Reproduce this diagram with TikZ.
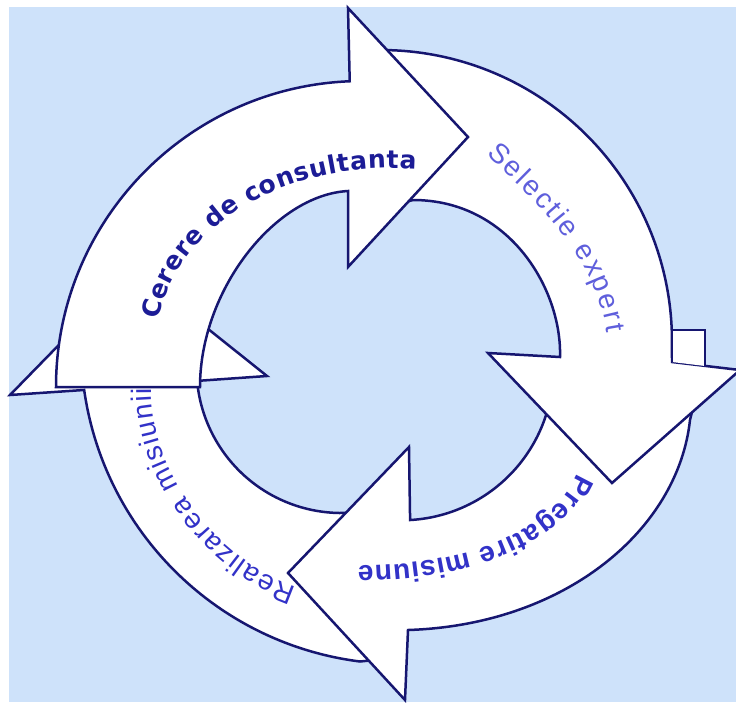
\documentclass[tikz,border=0pt]{standalone}
\usepackage{fontspec}
\usepackage{tikz}
\usetikzlibrary{decorations.text}
\newfontfamily\ringbold{DejaVu Sans}
\newfontfamily\ringsans{Liberation Sans}
\newcommand{\boldring}{\ringbold\bfseries\fontsize{25}{29}\selectfont}
\newcommand{\plainring}{\ringsans\fontsize{28}{32}\selectfont}
\newcommand{\heavyring}{\ringsans\bfseries\fontsize{28}{32}\selectfont}
\definecolor{skyback}{RGB}{206,226,250}
\definecolor{ringline}{RGB}{22,22,112}
\definecolor{darkink}{RGB}{28,28,150}
\definecolor{paleink}{RGB}{95,95,220}
\definecolor{midink}{RGB}{50,50,200}

\begin{document}
\begin{tikzpicture}[
    x=1pt, y=-1pt,
    ring/.style={fill=white, draw=ringline, line width=2.5pt, line join=miter},
    ringtext/.style 2 args={decorate, decoration={text along path, text align={fit to path}, text color=#1, text={#2}}}
]
\useasboundingbox (0,0) rectangle (736,702);
\clip (0,0) rectangle (736,702);
\fill[white] (0,0) rectangle (736,702);
\fill[skyback] (9,7) rectangle (736,702);

% Arrow 4 (left, points up) - lowest layer
\draw[ring] (375,660) -- (360,661.5) arc[start angle=97.2, end angle=171.9, radius=319]
  -- (10,395) -- (133,269) -- (267,376) -- (197.1,380.9) arc[start angle=174.9, end angle=80, radius=145] -- cycle;

% Arrow 3 (bottom, points left)
\draw[ring] (695,400) -- (690,420) .. controls (678,530) and (565,625) .. (408,630)
  -- (405,700) -- (288,573) -- (409,447) -- (410.1,520) arc[start angle=86.8, end angle=8, radius=151.7] -- cycle;

% Arrow 2 (right, points down)
\draw[ring] (370.8,50.2) arc[start angle=268, end angle=360, radius=291]
  -- (672,362) -- (740,370) -- (612,483) -- (488,353)
  -- (560,357) .. controls (562,290) and (510,200) .. (413,200) -- (395,205) -- cycle;
\draw[ring] (672,362) -- (672,330) -- (705,330) -- (705,366);

% Arrow 1 (top, points right) - on top
\draw[ring] (56,387) arc[start angle=180, end angle=267.7, radius=306]
  -- (348,8) -- (468,137) -- (348,267)
  -- (348,191) .. controls (275,195) and (200,290) .. (200,387) -- cycle;

% Labels along the ring
\path[ringtext={darkink}{|\boldring|Cerere de consultanta}] (159,320) .. controls (175,230) and (280,160) .. (416,169);
\path[ringtext={paleink}{|\plainring|Selectie expert}] (486,154) .. controls (535,200) and (595,255) .. (607,333);
\path[ringtext={midink}{|\heavyring|Pregatire misiune}] (577,473) .. controls (555,530) and (470,565) .. (358,566);
\path[ringtext={midink}{|\plainring|Realizarea misiunii}] (297,587) .. controls (215,560) and (150,470) .. (151,388);
\end{tikzpicture}
\end{document}
